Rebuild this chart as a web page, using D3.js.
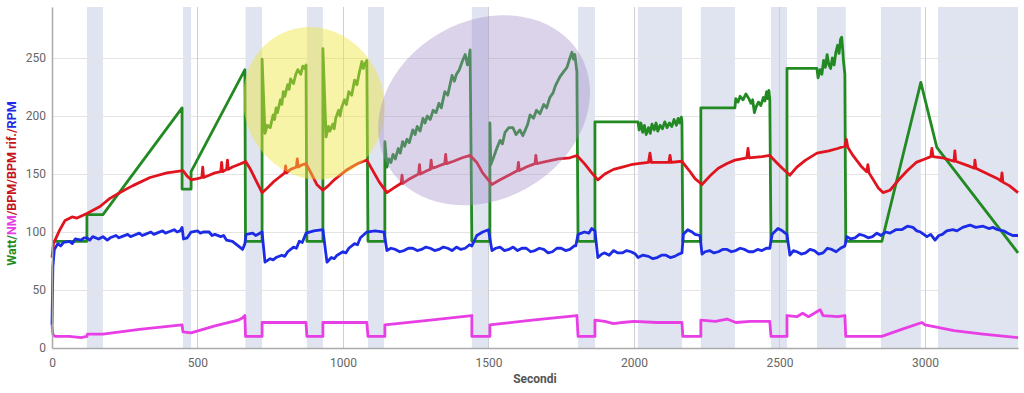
<!DOCTYPE html>
<meta charset="utf-8">
<style>
  body { margin: 0; background: #fff; }
  text { font-family: Roboto, sans-serif; }
  .tick text { fill: #666; font-size: 12px; }
</style>
<body>
<svg id="chart" width="1024" height="393"></svg>
<script src="https://d3js.org/d3.v7.min.js"></script>
<script>

// time ranges (s) of the shaded blocks
var bands = [[120,175],[450,478],[665,722],[876,931],[1086,1141],[1443,1502],[1808,1866],
  [2014,2165],[2230,2347],[2471,2526],[2629,2728],[2849,2986],[3045,3320]];

var xTicks = [0, 500, 1000, 1500, 2000, 2500, 3000];
var yTicks = [0, 50, 100, 150, 200, 250];

// Watt
var watt = [[0,92],[120,92],[120,115],[175,115],[447,207],[447,137],[478,137],[478,152],[663,240],[665,92],[722,92],
  [722,249],[732,185],[740,192],[750,190],[760,201],[765,197],[770,207],[775,203],[785,214],[790,210],[795,221],[800,217],
  [810,227],[815,223],[820,232],[830,228],[838,236],[845,240],[855,236],[862,243],[868,241],[873,244],[876,92],[931,92],
  [931,258],[942,182],[950,191],[955,187],[965,193],[970,189],[975,198],[985,205],[990,200],[995,207],[1005,214],[1012,210],
  [1020,221],[1030,218],[1040,231],[1048,227],[1055,236],[1065,247],[1070,241],[1075,245],[1082,248],[1086,92],[1144,92],
  [1144,178],[1151,156],[1158,163],[1165,160],[1172,167],[1180,163],[1190,172],[1197,168],[1205,178],[1212,174],[1220,180],
  [1228,177],[1240,188],[1248,184],[1255,191],[1265,187],[1275,198],[1282,194],[1290,200],[1300,197],[1310,205],[1320,203],
  [1330,211],[1338,207],[1350,221],[1360,218],[1375,235],[1383,230],[1390,236],[1400,240],[1410,247],[1420,253],[1428,244],
  [1434,252],[1437,257],[1443,92],[1505,92],[1505,194],[1508,158],[1520,166],[1530,173],[1540,179],[1548,176],[1557,186],
  [1570,190],[1584,190],[1595,184],[1608,188],[1618,183],[1625,187],[1635,193],[1643,201],[1655,198],[1665,205],[1677,202],
  [1690,210],[1700,207],[1711,216],[1722,220],[1730,226],[1738,230],[1746,234],[1758,238],[1770,242],[1780,250],[1787,255],
  [1792,249],[1797,253],[1804,238],[1808,92],[1866,92],[1866,195],[2014,195],[2018,188],[2024,194],[2030,186],[2036,192],
  [2042,184],[2050,190],[2056,185],[2062,193],[2070,188],[2076,194],[2082,187],[2090,192],[2098,189],[2106,195],[2114,190],
  [2122,194],[2130,191],[2138,197],[2146,192],[2152,198],[2158,194],[2163,199],[2165,195],[2168,92],[2230,92],[2230,207],
  [2347,207],[2350,215],[2358,212],[2365,217],[2375,214],[2385,219],[2395,215],[2402,211],[2408,214],[2414,203],[2420,208],
  [2428,212],[2436,209],[2445,216],[2450,213],[2456,221],[2460,215],[2464,222],[2467,214],[2471,92],[2526,92],[2526,241],
  [2629,241],[2633,233],[2640,240],[2646,236],[2652,248],[2658,242],[2664,253],[2670,244],[2676,241],[2682,250],[2688,244],
  [2694,255],[2700,261],[2705,254],[2710,266],[2714,268],[2718,256],[2720,248],[2725,236],[2728,92],[2852,92],[2986,229],
  [3041,173],[3320,82]];

// NM
var nm = [[0,20],[3,12],[10,10],[60,10],[100,9],[120,10],[122,12],[175,12],[300,16],[447,20],[450,14],[478,13],[560,19],
  [640,24],[655,26],[663,28],[665,10],[722,10],[722,22],[873,22],[876,10],[931,10],[931,22],[1082,22],[1086,10],[1144,10],
  [1144,20],[1300,24],[1443,28],[1443,10],[1505,10],[1505,20],[1650,24],[1804,28],[1808,10],[1866,10],[1866,24],[1900,23],
  [1930,21],[1960,22],[2000,23],[2080,22],[2165,22],[2168,10],[2230,10],[2230,24],[2280,23],[2320,25],[2350,22],[2400,23],
  [2467,23],[2471,10],[2526,10],[2526,28],[2560,27],[2580,30],[2600,27],[2640,33],[2650,28],[2700,27],[2725,28],[2728,10],
  [2852,10],[2920,16],[2990,22],[3000,20],[3040,18],[3100,15],[3200,12],[3320,9]];

// BPM
var bpm = [[0,78],[5,90],[27,102],[45,110],[69,113],[86,112],[120,116],[165,122],[199,129],[240,135],[278,140],[337,147],
  [395,151],[450,153],[465,148],[478,145],[500,146],[515,147],[518,156],[521,147],[540,149],[560,151],[580,152],[583,160],
  [586,152],[600,154],[603,162],[606,154],[620,156],[640,158],[660,160],[665,161],[680,155],[700,145],[722,134],[740,138],
  [760,143],[780,147],[800,151],[803,157],[806,151],[820,154],[840,156],[843,163],[846,156],[860,158],[873,159],[890,151],
  [910,141],[931,136],[950,140],[970,145],[990,149],[1010,153],[1030,156],[1050,159],[1070,161],[1082,162],[1100,154],
  [1125,143],[1151,134],[1175,138],[1200,142],[1203,149],[1206,142],[1230,146],[1260,150],[1263,158],[1266,150],[1290,153],
  [1300,154],[1303,162],[1306,155],[1320,156],[1350,159],[1353,167],[1356,159],[1380,161],[1410,164],[1437,166],[1460,160],
  [1480,151],[1512,141],[1540,145],[1570,149],[1600,153],[1603,160],[1606,153],[1630,156],[1660,159],[1663,166],[1666,159],
  [1700,161],[1740,163],[1780,164],[1804,166],[1830,159],[1855,151],[1876,145],[1900,150],[1930,154],[1960,156],[1990,158],
  [2014,159],[2050,160],[2055,168],[2060,160],[2090,160],[2120,160],[2124,166],[2128,160],[2165,161],[2190,153],[2210,146],
  [2234,141],[2260,148],[2290,155],[2320,159],[2347,162],[2388,164],[2392,172],[2396,164],[2440,165],[2467,166],[2490,160],
  [2510,155],[2536,149],[2560,156],[2590,162],[2629,168],[2670,170],[2700,172],[2725,174],[2730,180],[2735,173],[2750,167],
  [2780,157],[2800,152],[2804,158],[2808,151],[2840,138],[2856,134],[2880,136],[2910,145],[2940,153],[2970,160],[3000,163],
  [3020,165],[3024,172],[3028,165],[3060,164],[3100,161],[3103,170],[3106,161],[3150,157],[3170,155],[3172,162],[3175,155],
  [3200,152],[3250,146],[3262,144],[3265,151],[3268,143],[3290,140],[3320,134]];

// RPM
var rpm = [[0,20],[3,70],[8,85],[20,90],[30,88],[40,91],[60,92],[70,90],[80,94],[100,93],[110,95],[120,95],[130,93],
  [140,96],[160,94],[175,96],[190,93],[200,95],[220,97],[230,95],[240,96],[260,98],[270,96],[280,97],[300,99],[310,97],
  [320,98],[340,100],[350,98],[360,99],[380,101],[390,99],[400,100],[420,102],[430,100],[440,101],[447,104],[452,94],
  [465,95],[478,100],[500,101],[510,99],[520,100],[540,100],[550,97],[560,98],[580,96],[590,97],[600,93],[620,92],[630,90],
  [640,88],[655,85],[663,90],[667,98],[690,99],[700,97],[722,100],[732,74],[750,77],[760,76],[770,78],[790,80],[800,79],
  [810,83],[830,87],[840,86],[850,92],[860,91],[873,99],[900,101],[931,102],[945,74],[960,78],[970,77],[980,80],[1000,83],
  [1010,82],[1020,86],[1040,90],[1050,89],[1060,95],[1082,100],[1110,101],[1141,100],[1151,84],[1165,86],[1180,85],
  [1195,83],[1210,84],[1225,86],[1240,86],[1255,84],[1270,85],[1285,87],[1300,86],[1315,84],[1330,85],[1345,87],[1360,86],
  [1375,84],[1390,87],[1405,85],[1420,86],[1435,89],[1443,88],[1460,97],[1480,100],[1500,102],[1512,84],[1525,86],
  [1540,87],[1555,84],[1570,85],[1585,87],[1600,84],[1615,86],[1630,86],[1645,83],[1660,84],[1675,86],[1690,85],[1705,82],
  [1720,83],[1735,86],[1750,86],[1765,84],[1780,85],[1795,88],[1800,88],[1808,98],[1830,100],[1845,99],[1855,103],
  [1866,101],[1876,78],[1890,81],[1900,82],[1915,80],[1930,84],[1945,82],[1960,82],[1975,84],[1990,83],[2005,81],[2014,78],
  [2030,80],[2050,79],[2065,77],[2080,78],[2095,80],[2110,80],[2125,78],[2140,79],[2155,81],[2165,82],[2170,98],[2185,102],
  [2200,100],[2210,98],[2227,97],[2234,81],[2245,83],[2260,84],[2275,82],[2290,83],[2305,85],[2320,85],[2335,83],[2350,84],
  [2365,86],[2380,85],[2395,83],[2410,83],[2425,85],[2440,84],[2455,86],[2467,86],[2475,98],[2495,103],[2510,101],
  [2520,99],[2526,98],[2536,80],[2548,84],[2560,83],[2575,81],[2590,82],[2605,85],[2620,84],[2635,81],[2650,82],[2665,86],
  [2680,85],[2695,83],[2710,86],[2725,88],[2732,96],[2745,94],[2760,95],[2775,98],[2790,97],[2805,95],[2820,96],[2835,99],
  [2849,97],[2865,100],[2880,99],[2900,102],[2920,102],[2940,105],[2959,104],[2972,101],[2985,100],[3007,96],[3020,98],
  [3035,93],[3048,97],[3060,98],[3075,101],[3096,102],[3110,101],[3130,104],[3155,106],[3175,104],[3200,105],[3220,103],
  [3234,104],[3250,102],[3270,101],[3285,99],[3302,97],[3320,97]];

// highlight ellipses: centre (s, value), radii in px, angle
var marks = [
  {cx: 900, cy: 211, rx: 70, ry: 77, angle: -20, color: "rgb(240,230,60)", op: 0.45},
  {cx: 1485, cy: 205, rx: 111, ry: 89, angle: -30, color: "rgb(160,140,200)", op: 0.38}
];

var svg = d3.select("#chart"),
    margin = {top: 7, right: 6, bottom: 45, left: 52},
    width = +svg.attr("width") - margin.left - margin.right,
    height = +svg.attr("height") - margin.top - margin.bottom,
    g = svg.append("g").attr("transform", "translate(" + margin.left + "," + margin.top + ")");

var x = d3.scaleLinear().domain([0, 3320]).range([0, width]);
var y = d3.scaleLinear().domain([0, 294]).range([height, 0]);

g.selectAll(".band")
  .data(bands)
  .enter().append("rect")
  .attr("class", "band")
  .attr("x", function(d) { return x(d[0]); })
  .attr("width", function(d) { return x(d[1]) - x(d[0]); })
  .attr("y", 0)
  .attr("height", height)
  .attr("fill", "#dfe4f0");

g.selectAll(".hgrid")
  .data(yTicks.slice(1))
  .enter().append("line")
  .attr("x1", 0).attr("x2", width)
  .attr("y1", function(d) { return y(d) + 0.5; })
  .attr("y2", function(d) { return y(d) + 0.5; })
  .attr("stroke", "#e4e4e4");

g.selectAll(".vgrid")
  .data(xTicks.slice(1))
  .enter().append("line")
  .attr("y1", 0).attr("y2", height)
  .attr("x1", function(d) { return Math.round(x(d)) + 0.5; })
  .attr("x2", function(d) { return Math.round(x(d)) + 0.5; })
  .attr("stroke", "#cfcfcf");

var line = d3.line()
  .x(function(d) { return x(d[0]); })
  .y(function(d) { return y(d[1]); });

var series = [[watt, "#238a23"], [nm, "#e83ee6"], [rpm, "#1c2be6"], [bpm, "#e0141e"]];
series.forEach(function(s) {
  g.append("path")
    .datum(s[0])
    .attr("d", line)
    .attr("fill", "none")
    .attr("stroke", s[1])
    .attr("stroke-width", 2.8)
    .attr("stroke-linejoin", "round");
});

g.selectAll(".mark")
  .data(marks)
  .enter().append("ellipse")
  .attr("transform", function(d) { return "translate(" + x(d.cx) + "," + y(d.cy) + ") rotate(" + d.angle + ")"; })
  .attr("rx", function(d) { return d.rx; })
  .attr("ry", function(d) { return d.ry; })
  .attr("fill", function(d) { return d.color; })
  .attr("fill-opacity", function(d) { return d.op; });

var xAxis = g.append("g")
  .attr("transform", "translate(0," + height + ")")
  .call(d3.axisBottom(x).tickValues(xTicks).tickFormat(d3.format("d")).tickSize(0).tickPadding(10));
xAxis.select(".domain").attr("stroke", "#aaa").attr("stroke-width", 1.5);

var yAxis = g.append("g")
  .call(d3.axisLeft(y).tickValues(yTicks).tickFormat(d3.format("d")).tickSize(0).tickPadding(6));
yAxis.select(".domain").attr("stroke", "#aaa").attr("stroke-width", 1.5);

g.append("text")
  .attr("x", width / 2)
  .attr("y", height + 35)
  .attr("text-anchor", "middle")
  .attr("fill", "#555")
  .style("font-size", "12px")
  .style("font-weight", "bold")
  .text("Secondi");

var ylab = svg.append("text")
  .attr("transform", "translate(16," + (margin.top + height / 2 + 6) + ") rotate(-90)")
  .attr("text-anchor", "middle")
  .style("font-size", "12.5px")
  .style("font-weight", "bold");
[["Watt/", "#238a23"], ["NM", "#e83ee6"], ["/BPM/BPM rif./", "#c4141c"], ["RPM", "#1c2be6"]].forEach(function(p) {
  ylab.append("tspan").attr("fill", p[1]).text(p[0]);
});

</script>
</body>
